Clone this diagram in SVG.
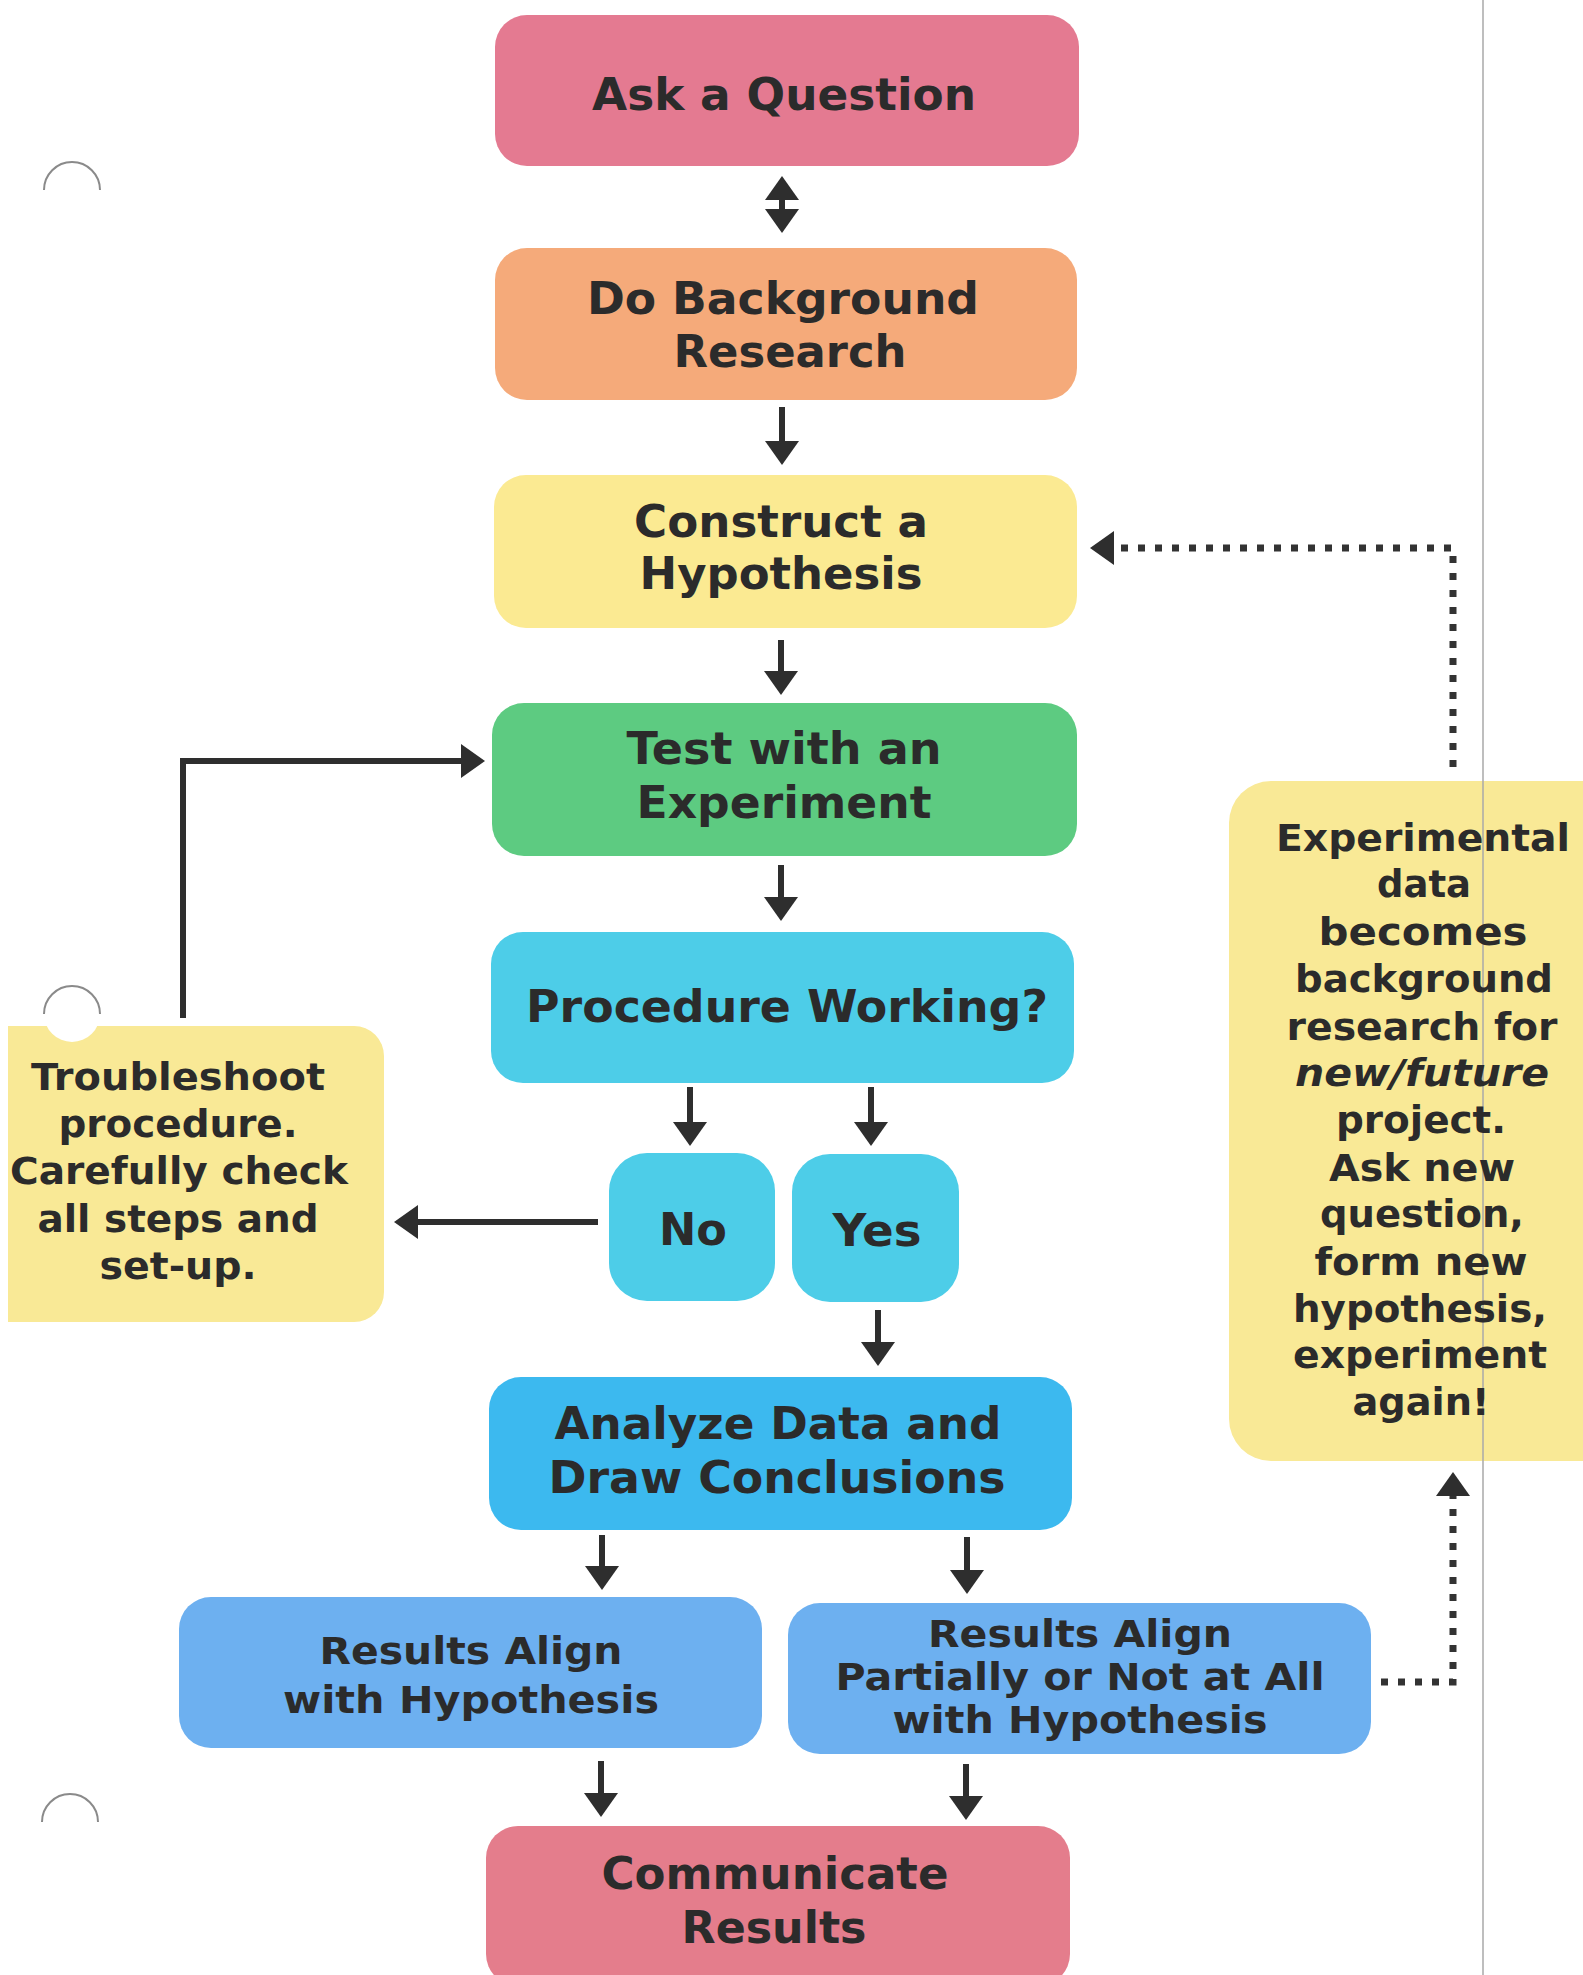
<svg xmlns="http://www.w3.org/2000/svg" width="1583" height="1975" viewBox="0 0 1583 1975">
<style>
.t{font-family:"DejaVu Sans",Verdana,sans-serif;font-weight:bold;fill:#2b2b2b;text-anchor:middle}
.u{font-size:45px}
.l{font-size:45px}
.r{font-size:37px}
.s{font-size:37px}
.c{fill:none;stroke:#2e2e2e;stroke-width:6}
.d{fill:none;stroke:#333;stroke-width:7;stroke-dasharray:7 10}
.hole{fill:none;stroke:#8a8a8a;stroke-width:2}
</style>
<defs>
<marker id="ah" markerUnits="userSpaceOnUse" markerWidth="24" markerHeight="36" viewBox="0 0 24 36" refX="4" refY="18" orient="auto-start-reverse">
<path d="M0,1 L24,18 L0,35 z" fill="#2e2e2e"/>
</marker>
</defs>
<rect width="1583" height="1975" fill="#ffffff"/>
<line x1="1483" y1="0" x2="1483" y2="1975" stroke="#a8a8a8" stroke-width="1.5"/>

<g id="ask">
<rect x="495" y="15" width="584" height="151" rx="32" fill="#E47A91"/>
<text class="t u" x="784" y="110" textLength="384" lengthAdjust="spacingAndGlyphs">Ask a Question</text>
</g>
<g id="background">
<rect x="495" y="248" width="582" height="152" rx="32" fill="#F5AA7A"/>
<text class="t u" x="783" y="314" textLength="392" lengthAdjust="spacingAndGlyphs">Do Background</text>
<text class="t u" x="790" y="367" textLength="233" lengthAdjust="spacingAndGlyphs">Research</text>
</g>
<g id="hypothesis">
<rect x="494" y="475" width="583" height="153" rx="32" fill="#FBEA92"/>
<text class="t u" x="781" y="537" textLength="294" lengthAdjust="spacingAndGlyphs">Construct a</text>
<text class="t u" x="781" y="589" textLength="283" lengthAdjust="spacingAndGlyphs">Hypothesis</text>
</g>
<g id="experiment">
<rect x="492" y="703" width="585" height="153" rx="32" fill="#5DCB81"/>
<text class="t u" x="784" y="764" textLength="315" lengthAdjust="spacingAndGlyphs">Test with an</text>
<text class="t u" x="784" y="818" textLength="295" lengthAdjust="spacingAndGlyphs">Experiment</text>
</g>
<g id="procedure">
<rect x="491" y="932" width="583" height="151" rx="32" fill="#4DCDE8"/>
<text class="t u" x="787" y="1022" textLength="522" lengthAdjust="spacingAndGlyphs">Procedure Working?</text>
</g>
<g id="no">
<rect x="609" y="1153" width="166" height="148" rx="38" fill="#4DCDE8"/>
<text class="t u" x="693" y="1245" textLength="68" lengthAdjust="spacingAndGlyphs">No</text>
</g>
<g id="yes">
<rect x="792" y="1154" width="167" height="148" rx="38" fill="#4DCDE8"/>
<text class="t u" x="877" y="1246" textLength="89" lengthAdjust="spacingAndGlyphs">Yes</text>
</g>
<g id="analyze">
<rect x="489" y="1377" width="583" height="153" rx="32" fill="#3CB9EF"/>
<text class="t l" x="778" y="1439" textLength="447" lengthAdjust="spacingAndGlyphs">Analyze Data and</text>
<text class="t l" x="777" y="1493" textLength="457" lengthAdjust="spacingAndGlyphs">Draw Conclusions</text>
</g>
<g id="align">
<rect x="179" y="1597" width="583" height="151" rx="32" fill="#6DB0F0"/>
<text class="t r" x="471" y="1664" textLength="303" lengthAdjust="spacingAndGlyphs">Results Align</text>
<text class="t r" x="471" y="1713" textLength="376" lengthAdjust="spacingAndGlyphs">with Hypothesis</text>
</g>
<g id="partial">
<rect x="788" y="1603" width="583" height="151" rx="32" fill="#6DB0F0"/>
<text class="t r" x="1080" y="1647" textLength="304" lengthAdjust="spacingAndGlyphs">Results Align</text>
<text class="t r" x="1080" y="1690" textLength="489" lengthAdjust="spacingAndGlyphs">Partially or Not at All</text>
<text class="t r" x="1080" y="1733" textLength="375" lengthAdjust="spacingAndGlyphs">with Hypothesis</text>
</g>
<g id="communicate">
<rect x="486" y="1826" width="584" height="160" rx="32" fill="#E47D8C"/>
<text class="t l" x="775" y="1889" textLength="347" lengthAdjust="spacingAndGlyphs">Communicate</text>
<text class="t l" x="774" y="1943" textLength="185" lengthAdjust="spacingAndGlyphs">Results</text>
</g>
<g id="troubleshoot">
<path d="M8,1026 H354 A30,30 0 0 1 384,1056 V1292 A30,30 0 0 1 354,1322 H8 Z" fill="#F9E996"/>
<circle cx="72" cy="1014" r="28" fill="#ffffff"/>
<text class="t s" x="178" y="1090" textLength="294" lengthAdjust="spacingAndGlyphs">Troubleshoot</text>
<text class="t s" x="178" y="1137" textLength="239" lengthAdjust="spacingAndGlyphs">procedure.</text>
<text class="t s" x="179" y="1184" textLength="338" lengthAdjust="spacingAndGlyphs">Carefully check</text>
<text class="t s" x="178" y="1232" textLength="281" lengthAdjust="spacingAndGlyphs">all steps and</text>
<text class="t s" x="178" y="1279" textLength="157" lengthAdjust="spacingAndGlyphs">set-up.</text>
</g>
<g id="newdata">
<path d="M1600,781 H1271 A42,42 0 0 0 1229,823 V1419 A42,42 0 0 0 1271,1461 H1600 Z" fill="#F9E996"/>
<line x1="1483" y1="781" x2="1483" y2="1461" stroke="#a8a8a8" stroke-width="1.5"/>
<text class="t s" x="1423" y="851" textLength="294" lengthAdjust="spacingAndGlyphs">Experimental</text>
<text class="t s" x="1424" y="897" textLength="94" lengthAdjust="spacingAndGlyphs">data</text>
<text class="t s" x="1423" y="945" textLength="209" lengthAdjust="spacingAndGlyphs">becomes</text>
<text class="t s" x="1424" y="992" textLength="258" lengthAdjust="spacingAndGlyphs">background</text>
<text class="t s" x="1422" y="1040" textLength="271" lengthAdjust="spacingAndGlyphs">research for</text>
<text class="t s" x="1422" y="1086" font-style="italic" textLength="254" lengthAdjust="spacingAndGlyphs">new/future</text>
<text class="t s" x="1421" y="1133" textLength="170" lengthAdjust="spacingAndGlyphs">project.</text>
<text class="t s" x="1422" y="1181" textLength="186" lengthAdjust="spacingAndGlyphs">Ask new</text>
<text class="t s" x="1422" y="1227" textLength="204" lengthAdjust="spacingAndGlyphs">question,</text>
<text class="t s" x="1421" y="1275" textLength="213" lengthAdjust="spacingAndGlyphs">form new</text>
<text class="t s" x="1420" y="1322" textLength="254" lengthAdjust="spacingAndGlyphs">hypothesis,</text>
<text class="t s" x="1420" y="1368" textLength="254" lengthAdjust="spacingAndGlyphs">experiment</text>
<text class="t s" x="1421" y="1415" textLength="137" lengthAdjust="spacingAndGlyphs">again!</text>
</g>

<g id="connectors">
<line class="c" x1="782" y1="196" x2="782" y2="213" marker-start="url(#ah)" marker-end="url(#ah)"/>
<line class="c" x1="782" y1="407" x2="782" y2="445" marker-end="url(#ah)"/>
<line class="c" x1="781" y1="640" x2="781" y2="675" marker-end="url(#ah)"/>
<line class="c" x1="781" y1="865" x2="781" y2="901" marker-end="url(#ah)"/>
<line class="c" x1="690" y1="1087" x2="690" y2="1126" marker-end="url(#ah)"/>
<line class="c" x1="871" y1="1087" x2="871" y2="1126" marker-end="url(#ah)"/>
<line class="c" x1="878" y1="1310" x2="878" y2="1346" marker-end="url(#ah)"/>
<line class="c" x1="602" y1="1535" x2="602" y2="1570" marker-end="url(#ah)"/>
<line class="c" x1="967" y1="1537" x2="967" y2="1574" marker-end="url(#ah)"/>
<line class="c" x1="601" y1="1761" x2="601" y2="1797" marker-end="url(#ah)"/>
<line class="c" x1="966" y1="1764" x2="966" y2="1800" marker-end="url(#ah)"/>
<line class="c" x1="598" y1="1222" x2="414" y2="1222" marker-end="url(#ah)"/>
<path class="c" d="M183,1018 V761 H465" marker-end="url(#ah)"/>
<path class="d" d="M1381,1682 H1453 V1492" marker-end="url(#ah)"/>
<path class="d" d="M1453,767 V548 H1110" marker-end="url(#ah)"/>
</g>

<path class="hole" d="M44,190 A28,28 0 0 1 100,190"/>
<path class="hole" d="M44,1014 A28,28 0 0 1 100,1014"/>
<path class="hole" d="M42,1822 A28,28 0 0 1 98,1822"/>
</svg>
